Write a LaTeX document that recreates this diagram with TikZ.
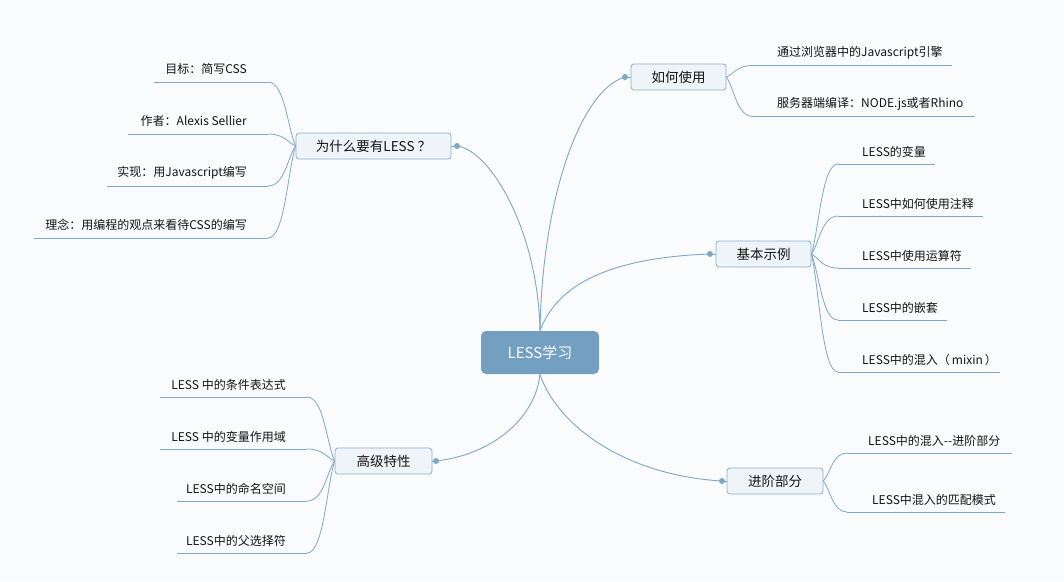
\documentclass[tikz,border=0pt]{standalone}
\usepackage{fontspec}
\setmainfont{Noto Sans CJK SC}
\usetikzlibrary{calc}
\definecolor{bg}{HTML}{FAFBFC}
\definecolor{ln}{HTML}{7FA7C8}
\definecolor{cfill}{HTML}{739FC1}
\definecolor{tfill}{HTML}{EEF4F8}
\definecolor{tdraw}{HTML}{8BAFCC}
\definecolor{txt}{HTML}{141414}
\begin{document}
\begin{tikzpicture}[x=1pt,y=-1pt,
  maintopic/.style={draw=tdraw, fill=tfill, rounded corners=3pt, minimum height=26pt, inner sep=0pt, font=\fontsize{13.5}{16}\selectfont, text=txt, line width=0.8pt},
  centretopic/.style={fill=cfill, rounded corners=5pt, inner sep=0pt, text=white, font=\fontsize{15}{18}\selectfont},
  leaf/.style={font=\fontsize{12}{14}\selectfont, text=txt, inner sep=0pt},
  conn/.style={draw=ln, line width=0.9pt},
  leafline/.style={draw=ln, line width=0.8pt},
  dot/.style={circle, fill=ln, inner sep=0pt, minimum size=6pt}]
\fill[bg] (0,0) rectangle (1064,581);
\useasboundingbox (0,0) rectangle (1064,581);

\coordinate (dwhyp) at (457,146);
\coordinate (dhowp) at (625,77);
\coordinate (dbasicp) at (710,254);
\coordinate (dadvp) at (722,481);
\coordinate (dhighp) at (436,461);

\node[centretopic, minimum width=118pt, minimum height=43pt] (c) at (540,352.5) {LESS学习};
\node[maintopic, minimum width=155pt] (why) at (373.5,146) {为什么要有LESS\hspace{3pt}？};
\node[maintopic, minimum width=95pt] (how) at (678.5,77) {如何使用};
\node[maintopic, minimum width=95pt] (basic) at (763.5,254) {基本示例};
\node[maintopic, minimum width=96pt] (adv) at (775,481) {进阶部分};
\node[maintopic, minimum width=97pt] (high) at (383.5,461) {高级特性};

\node[dot] (dwhy) at (dwhyp) {};
\node[dot] (dhow) at (dhowp) {};
\node[dot] (dbasic) at (dbasicp) {};
\node[dot] (dadv) at (dadvp) {};
\node[dot] (dhigh) at (dhighp) {};

\draw[conn] (c.north) .. controls +(-2,-101) and ($(dwhy.center)+(33,4)$) .. (dwhy.center);
\draw[conn] (c.north) .. controls +(2,-131) and ($(dhow.center)+(-45,13)$) .. (dhow.center);
\draw[conn] (c.north) .. controls +(15,-41) and ($(dbasic.center)+(-110,4)$) .. (dbasic.center);
\draw[conn] (c.south) .. controls +(15,47) and ($(dadv.center)+(-102,-6)$) .. (dadv.center);
\draw[conn] (c.south) .. controls +(-5,46) and ($(dhigh.center)+(54,-6)$) .. (dhigh.center);
\draw[conn] (dwhy.center) -- (why.east);
\draw[conn] (dhow.center) -- (how.west);
\draw[conn] (dbasic.center) -- (basic.west);
\draw[conn] (dadv.center) -- (adv.west);
\draw[conn] (dhigh.center) -- (high.east);

% leaves of why
\foreach \txt/\ty/\xs [count=\i] in {目标：简写CSS/69/154, 作者：Alexis Sellier/121/128, 实现：用Javascript编写/173/107, 理念：用编程的观点来看待CSS的编写/225/34}{
  \node[leaf, anchor=east] (whyl\i) at (247,\ty) {\txt};
  \coordinate (whya\i) at (\xs,\ty+13);
  \coordinate (whyb\i) at (268,\ty+13);
  \draw[leafline] (whya\i) -- (whyb\i);
  \draw[leafline] (why.west) .. controls ($(why.west)!0.3!(whyb\i)$) and ($(whyb\i)!0.6!(whyb\i -| why.west)$) .. (whyb\i);
}

% leaves of how
\foreach \txt/\ty/\xe [count=\i] in {通过浏览器中的Javascript引擎/53/952, 服务器端编译：NODE.js或者Rhino/104/975}{
  \node[leaf, anchor=west] (howl\i) at (777,\ty) {\txt};
  \coordinate (howa\i) at (753,\ty+12.5);
  \coordinate (howb\i) at (\xe,\ty+12.5);
  \draw[leafline] (howa\i) -- (howb\i);
  \draw[leafline] (how.east) .. controls ($(how.east)!0.3!(howa\i)$) and ($(howa\i)!0.6!(howa\i -| how.east)$) .. (howa\i);
}

% leaves of basic
\foreach \txt/\ty/\xe [count=\i] in {LESS的变量/152/935, LESS中如何使用注释/204/983, LESS中使用运算符/256/971, LESS中的嵌套/308/947, LESS中的混入（\,mixin\,）/360/1000}{
  \node[leaf, anchor=west] (basicl\i) at (862,\ty) {\txt};
  \coordinate (basica\i) at (838,\ty+12);
  \coordinate (basicb\i) at (\xe,\ty+12);
  \draw[leafline] (basica\i) -- (basicb\i);
  \draw[leafline] (basic.east) .. controls ($(basic.east)!0.3!(basica\i)$) and ($(basica\i)!0.6!(basica\i -| basic.east)$) .. (basica\i);
}

% leaves of adv
\foreach \txt/\ty/\xs/\xe [count=\i] in {LESS中的混入-{}-进阶部分/441/868/1012, LESS中混入的匹配模式/500/872/1005}{
  \node[leaf, anchor=west] (advl\i) at (\xs,\ty) {\txt};
  \coordinate (adva\i) at (847,\ty+12);
  \coordinate (advb\i) at (\xe,\ty+12);
  \draw[leafline] (adva\i) -- (advb\i);
  \draw[leafline] (adv.east) .. controls ($(adv.east)!0.3!(adva\i)$) and ($(adva\i)!0.6!(adva\i -| adv.east)$) .. (adva\i);
}

% leaves of high
\foreach \txt/\ty/\xs [count=\i] in {LESS 中的条件表达式/385/160, LESS 中的变量作用域/437/160, LESS中的命名空间/489/177, LESS中的父选择符/541/177}{
  \node[leaf, anchor=east] (highl\i) at (286,\ty) {\txt};
  \coordinate (higha\i) at (\xs,\ty+12);
  \coordinate (highb\i) at (307,\ty+12);
  \draw[leafline] (higha\i) -- (highb\i);
  \draw[leafline] (high.west) .. controls ($(high.west)!0.3!(highb\i)$) and ($(highb\i)!0.6!(highb\i -| high.west)$) .. (highb\i);
}
\end{tikzpicture}
\end{document}
